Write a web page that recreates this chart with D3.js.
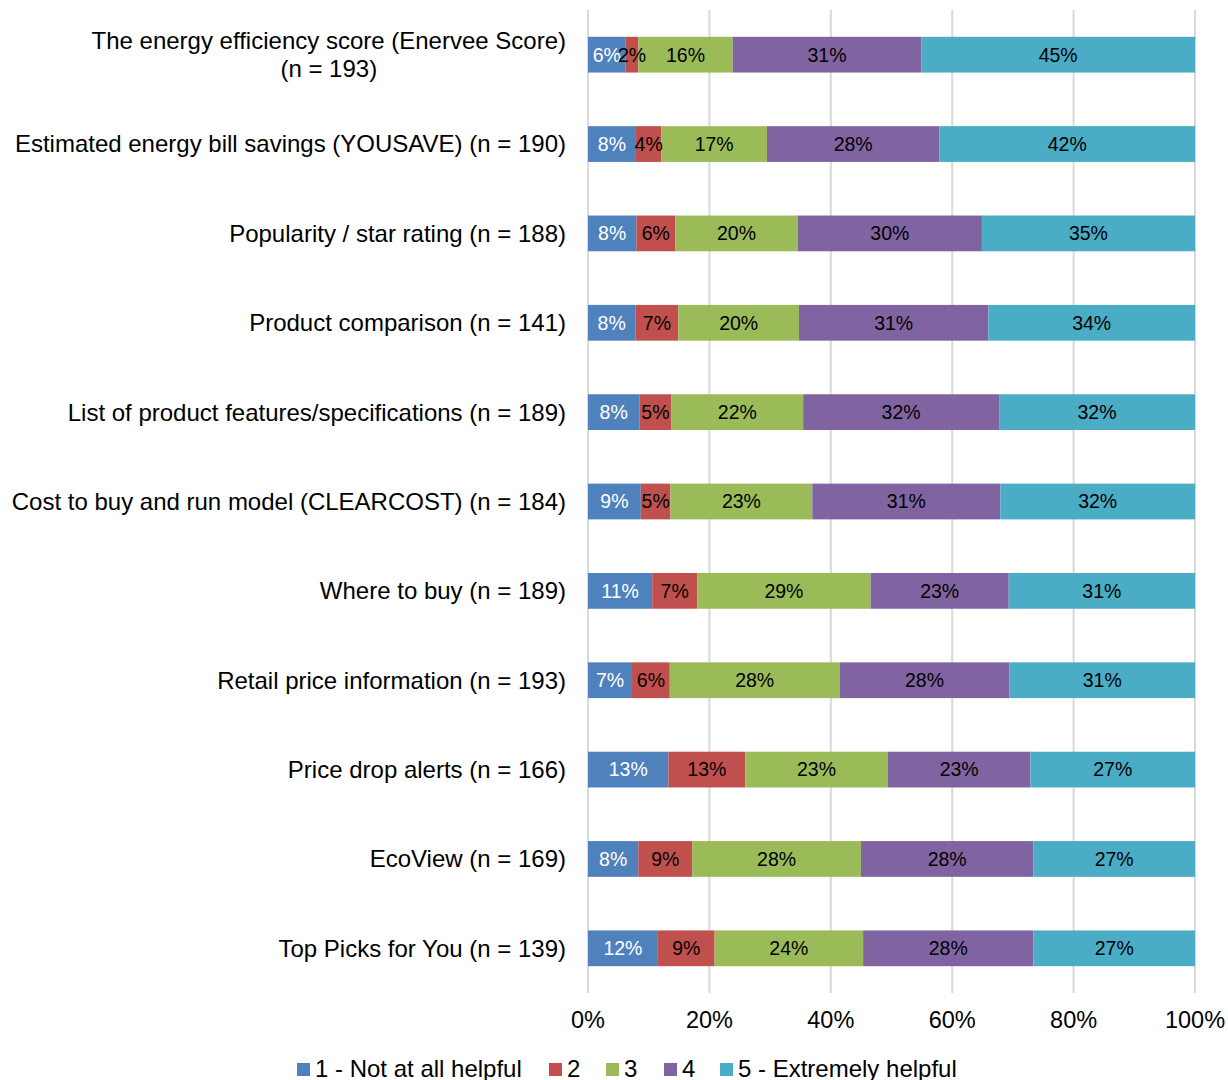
<!DOCTYPE html>
<html>
<head>
<meta charset="utf-8">
<script src="https://cdn.jsdelivr.net/npm/d3@7"></script>
<style>
  html, body { margin: 0; padding: 0; background: #fff; }
  svg { display: block; font-family: "Liberation Sans", Arial, sans-serif; }
</style>
</head>
<body>
<svg id="chart" width="1228" height="1080"></svg>
<script>
// Survey items (top to bottom), each with respondent count n
const categories = [
  "The energy efficiency score (Enervee Score)\n(n = 193)",
  "Estimated energy bill savings (YOUSAVE) (n = 190)",
  "Popularity / star rating (n = 188)",
  "Product comparison (n = 141)",
  "List of product features/specifications (n = 189)",
  "Cost to buy and run model (CLEARCOST) (n = 184)",
  "Where to buy (n = 189)",
  "Retail price information (n = 193)",
  "Price drop alerts (n = 166)",
  "EcoView (n = 169)",
  "Top Picks for You (n = 139)"
];
const sampleSizes = [193, 190, 188, 141, 189, 184, 189, 193, 166, 169, 139];

// Response counts per rating level, one array per level (same order as categories)
const notHelpful   = [12, 15, 15, 11, 16, 16, 20, 14, 22, 14, 16];
const rating2      = [ 4,  8, 12, 10, 10,  9, 14, 12, 21, 15, 13];
const rating3      = [30, 33, 38, 28, 41, 43, 54, 54, 39, 47, 34];
const rating4      = [60, 54, 57, 44, 61, 57, 43, 54, 39, 48, 39];
const extremely    = [87, 80, 66, 48, 61, 59, 58, 59, 45, 45, 37];

const seriesNames = ["1 - Not at all helpful", "2", "3", "4", "5 - Extremely helpful"];
const seriesCounts = [notHelpful, rating2, rating3, rating4, extremely];
const seriesColors = ["#4F81BD", "#C0504D", "#9BBB59", "#8064A2", "#4BACC6"];
const labelColors  = ["#ffffff", "#000000", "#000000", "#000000", "#000000"];
const xTicks = [0, 0.2, 0.4, 0.6, 0.8, 1.0];

// Build share table: one row per category, one key per series
const keys = seriesNames;
const table = categories.map((c, i) => {
  const row = { category: c };
  keys.forEach((k, s) => { row[k] = seriesCounts[s][i] / sampleSizes[i]; });
  return row;
});
const stacked = d3.stack().keys(keys)(table);

const svg = d3.select("#chart");
const plot = { left: 588, right: 1195, top: 10, bottom: 993 };

const x = d3.scaleLinear().domain([0, 1]).range([plot.left, plot.right]);
const y = d3.scaleBand().domain(categories)
  .range([plot.top, plot.bottom]).paddingInner(0.6).paddingOuter(0.3);

// Vertical gridlines
svg.append("g").selectAll("line").data(xTicks).join("line")
  .attr("x1", d => x(d)).attr("x2", d => x(d))
  .attr("y1", plot.top).attr("y2", plot.bottom)
  .attr("stroke", "#d9d9d9").attr("stroke-width", 2);

// Stacked segments
const layers = svg.append("g").selectAll("g").data(stacked).join("g")
  .attr("fill", (d, i) => seriesColors[i]);
layers.selectAll("rect").data(d => d).join("rect")
  .attr("x", d => x(d[0]))
  .attr("width", d => x(d[1]) - x(d[0]))
  .attr("y", d => y(d.data.category))
  .attr("height", y.bandwidth());

// Percentage labels inside segments
const fmt = d3.format(".0%");
stacked.forEach((layer, s) => {
  svg.append("g").selectAll("text").data(layer).join("text")
    .attr("x", d => (x(d[0]) + x(d[1])) / 2)
    .attr("y", d => y(d.data.category) + y.bandwidth() / 2)
    .attr("dy", "0.35em")
    .attr("text-anchor", "middle")
    .attr("font-size", "19.5px")
    .attr("fill", labelColors[s])
    .text(d => fmt(d[1] - d[0]));
});

// Category labels (multi-line labels centred within their block, block right-aligned)
const catG = svg.append("g");
categories.forEach(c => {
  const lines = c.split("\n");
  const cy = y(c) + y.bandwidth() / 2;
  const lh = 28;
  const t = catG.append("text")
    .attr("font-size", "24px").attr("fill", "#000")
    .attr("text-anchor", lines.length > 1 ? "middle" : "end");
  lines.forEach((ln, j) => {
    t.append("tspan").attr("x", 566)
      .attr("y", cy + (j - (lines.length - 1) / 2) * lh)
      .attr("dy", "0.35em").text(ln);
  });
  if (lines.length > 1) {
    const w = d3.max(t.selectAll("tspan").nodes(), n => n.getComputedTextLength());
    t.selectAll("tspan").attr("x", 566 - w / 2);
  }
});

// X axis tick labels
svg.append("g").selectAll("text").data(xTicks).join("text")
  .attr("x", d => x(d)).attr("y", 1020).attr("dy", "0.35em")
  .attr("text-anchor", "middle").attr("font-size", "23.5px")
  .text(d => fmt(d));

// Legend
const legendX = [297, 549, 606, 664, 720];
const legend = svg.append("g").selectAll("g").data(seriesNames).join("g")
  .attr("transform", (d, i) => `translate(${legendX[i]},1069)`);
legend.append("rect").attr("x", 0).attr("y", -6).attr("width", 13).attr("height", 13)
  .attr("fill", (d, i) => seriesColors[i]);
legend.append("text").attr("x", 18).attr("dy", "0.35em")
  .attr("font-size", "24px").text(d => d);
</script>
</body>
</html>
